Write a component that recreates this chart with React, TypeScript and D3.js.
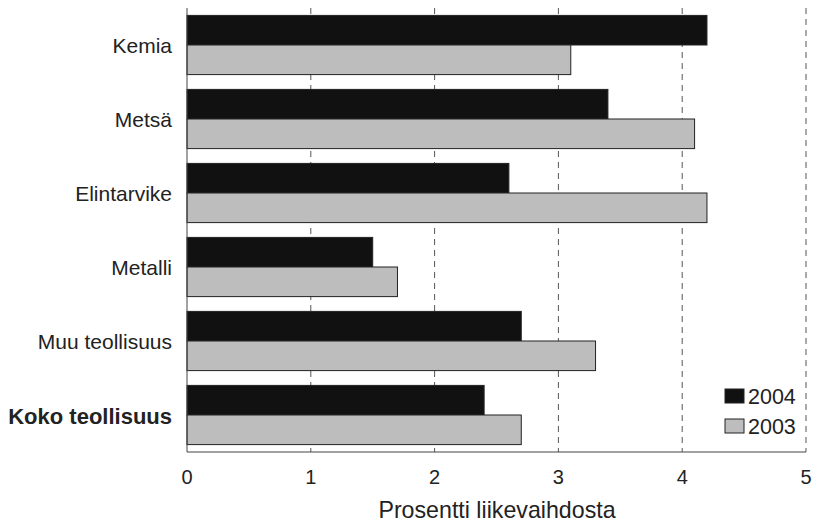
import React from "react";
import * as d3 from "d3";

const categories = ["Kemia", "Metsä", "Elintarvike", "Metalli", "Muu teollisuus", "Koko teollisuus"];
const values2004 = [4.2, 3.4, 2.6, 1.5, 2.7, 2.4];
const values2003 = [3.1, 4.1, 4.2, 1.7, 3.3, 2.7];
const xTicks = [0, 1, 2, 3, 4, 5];
const seriesNames = ["2004", "2003"];

export default function App() {
  const W = 815, H = 523;
  const left = 187, right = 806, top = 8, bottom = 452;
  const x = d3.scaleLinear().domain([0, 5]).range([left, right]);
  const y = d3.scaleBand<string>().domain(categories).range([top, bottom]).paddingInner(0.2).paddingOuter(0.1);
  const inner = d3.scaleBand<string>().domain(seriesNames).range([0, y.bandwidth()]);
  const font = "'Liberation Sans', Arial, sans-serif";
  const series = [values2004, values2003];
  const fills = ["#111111", "#bdbdbd"];
  return (
    <svg width={W} height={H} style={{ position: "absolute", left: 0, top: 0, background: "#fff" }} fontFamily={font}>
      {xTicks.slice(1).map((t) => (
        <line key={t} x1={x(t)} x2={x(t)} y1={top} y2={bottom} stroke="#555" strokeWidth={1} strokeDasharray="6,5" />
      ))}
      {categories.map((c, i) =>
        series.map((s, j) => (
          <rect key={c + j} x={x(0)} y={(y(c) as number) + (inner(seriesNames[j]) as number)}
            width={x(s[i]) - x(0)} height={inner.bandwidth()} fill={fills[j]} stroke="#222" strokeWidth={1} />
        ))
      )}
      <line x1={left} x2={left} y1={top} y2={bottom} stroke="#444" strokeWidth={1} />
      <line x1={left} x2={right} y1={bottom} y2={bottom} stroke="#444" strokeWidth={1} />
      {xTicks.map((t) => (
        <text key={t} x={x(t)} y={484} textAnchor="middle" fontSize={20} fill="#222">{t}</text>
      ))}
      {categories.map((c, i) => {
        const last = i === categories.length - 1;
        return (
          <text key={c} x={172} y={(y(c) as number) + y.bandwidth() / 2 + (last ? 9 : 8)} textAnchor="end"
            fontSize={last ? 22 : 21} fontWeight={last ? "bold" : "normal"} fill="#222">{c}</text>
        );
      })}
      <text x={497} y={518} textAnchor="middle" fontSize={23.2} fill="#222">Prosentti liikevaihdosta</text>
      {seriesNames.map((n, j) => (
        <g key={n} transform={`translate(725, ${389 + j * 30})`}>
          <rect x={0} y={0} width={19} height={14} fill={fills[j]} stroke="#222" strokeWidth={1} />
          <text x={23} y={14.5} fontSize={21.5} fill="#222">{n}</text>
        </g>
      ))}
    </svg>
  );
}
